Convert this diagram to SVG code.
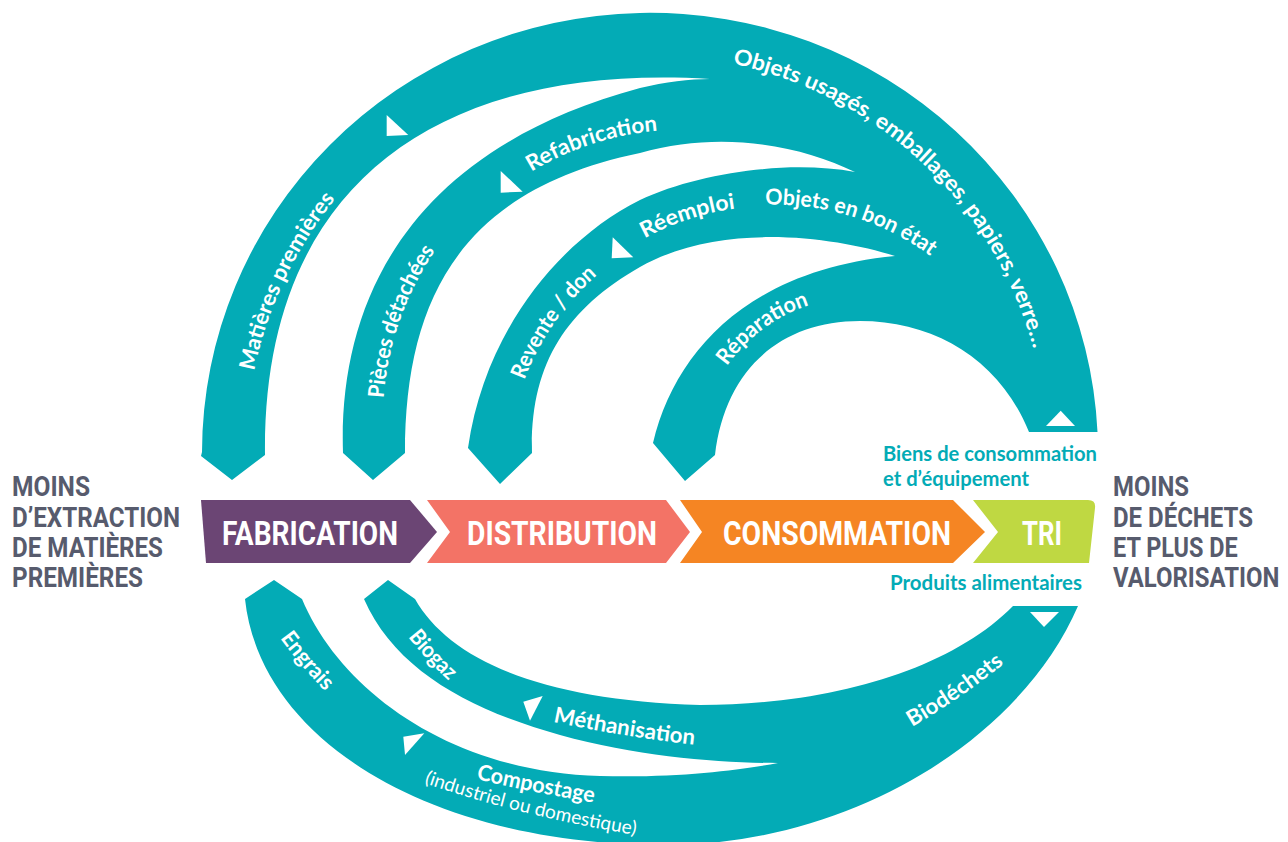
<svg xmlns="http://www.w3.org/2000/svg" width="1288" height="842" viewBox="0 0 1288 842">
<style>
.band{fill:#03abb6}
.tri{fill:#ffffff}
.lbl{font-family:Lato,"Open Sans","Liberation Sans",sans-serif;font-weight:700;font-size:22px;fill:#ffffff}
.lbl-light{font-family:Lato,"Open Sans","Liberation Sans",sans-serif;font-weight:400;font-size:19px;fill:#ffffff}
.chev{font-family:Roboto,"Liberation Sans",sans-serif;font-weight:700;font-size:33px;fill:#ffffff}
.side{font-family:Roboto,"Liberation Sans",sans-serif;font-weight:700;font-size:28px;fill:#575b6d}
.teal{font-family:Lato,"Liberation Sans",sans-serif;font-weight:700;font-size:21px;fill:#03abb6}
</style>
<defs>
<path id="p-mat" d="M 254.2,371 A 404 404 0 0 1 336.2,197.8"/>
<path id="p-obj" d="M 732.5,63.7 A 397 397 0 0 1 1034.3,352.6"/>
<path id="p-pie" d="M 383.7,398.2 A 298 298 0 0 1 436.9,248.1"/>
<path id="p-ref" d="M 531.3,171.8 A 289 289 0 0 1 660.3,130.7"/>
<path id="p-rev" d="M 524.3,379.9 A 265 265 0 0 1 599.2,273.1"/>
<path id="p-ree" d="M 644.5,238.3 A 268 268 0 0 1 737.9,208.2"/>
<path id="p-bon" d="M 765.4,204.6 A 269.5 269.5 0 0 1 932.7,257.6"/>
<path id="p-rep" d="M 726.8,366 A 163 163 0 0 1 811.3,304.5"/>
<path id="p-eng" d="M 280,638 Q 301,667 327,693"/>
<path id="p-bio" d="M 408,637 Q 428,662 451,683"/>
<path id="p-met" d="M 553,722 Q 625,737 697,745"/>
<path id="p-com" d="M 476,779 Q 535,793 596,803"/>
<path id="p-ind" d="M 424,783 Q 520,816 636,835"/>
<path id="p-bdc" d="M 912,727 Q 962,698 1006,662"/>
</defs>

<g id="connectors">
  <g id="loop-top">
    <path class="band" d="M 232,480 L 201,456 L 202,452 A 448 440 0 0 1 1097.5,432 L 1029,432 C 1000,360 935,321 860,321 C 780,321 725,370 715,455 L 685,481 L 653,443 C 675,350 750,270 895,256 C 830,236 720,222 640,267 C 565,310 530,365 532,453 L 500,484 L 468,448 C 485,330 560,240 640,200 C 700,172 790,160 855,172 C 800,145 720,130 640,153 C 460,190 405,300 405,453 L 373,480 L 343,453 C 338,300 410,150 640,88 C 665,82 690,79 710,79 C 420,62 262,200 265,455 Z"/>
    <polygon class="tri" points="386.7,115 386.7,136 408.3,135"/>
    <polygon class="tri" points="500.7,171 500.7,192.7 522.7,191.7"/>
    <polygon class="tri" points="612.7,237.3 611.7,258.3 633.3,257.3"/>
    <polygon class="tri" points="1046,426 1075,426 1060.7,410.7"/>
  </g>
  <g id="loop-bottom">
    <path class="band" d="M 274,580 L 302,599 C 340,690 450,772 600,776 C 680,778 740,770 778,763 C 720,763 640,757 560,735 C 470,710 395,670 364,599 L 388,580 L 415,599 C 450,660 540,700 700,705 C 830,705 950,670 1013,606 L 1078,606 C 1020,740 850,845 665,845 C 430,845 260,740 245,599 Z"/>
    <polygon class="tri" points="523.3,701.7 542.7,696 530,720.7"/>
    <polygon class="tri" points="403.3,736.7 424.3,733.3 405,755"/>
    <polygon class="tri" points="1030,612 1059,612 1044,627"/>
  </g>
</g>

<g id="flow-labels">
  <text class="lbl"><textPath href="#p-mat" textLength="192" lengthAdjust="spacingAndGlyphs">Matières premières</textPath></text>
  <text class="lbl"><textPath href="#p-obj" textLength="436" lengthAdjust="spacingAndGlyphs">Objets usagés, emballages, papiers, verre…</textPath></text>
  <text class="lbl"><textPath href="#p-pie" textLength="158" lengthAdjust="spacingAndGlyphs">Pièces détachées</textPath></text>
  <text class="lbl"><textPath href="#p-ref" textLength="134" lengthAdjust="spacingAndGlyphs">Refabrication</textPath></text>
  <text class="lbl"><textPath href="#p-rev" textLength="129" lengthAdjust="spacingAndGlyphs">Revente / don</textPath></text>
  <text class="lbl"><textPath href="#p-ree" textLength="96" lengthAdjust="spacingAndGlyphs">Réemploi</textPath></text>
  <text class="lbl"><textPath href="#p-bon" textLength="176" lengthAdjust="spacingAndGlyphs">Objets en bon état</textPath></text>
  <text class="lbl"><textPath href="#p-rep" textLength="104" lengthAdjust="spacingAndGlyphs">Réparation</textPath></text>
  <text class="lbl"><textPath href="#p-eng" textLength="70" lengthAdjust="spacingAndGlyphs">Engrais</textPath></text>
  <text class="lbl"><textPath href="#p-bio" textLength="60" lengthAdjust="spacingAndGlyphs">Biogaz</textPath></text>
  <text class="lbl"><textPath href="#p-met" textLength="143" lengthAdjust="spacingAndGlyphs">Méthanisation</textPath></text>
  <text class="lbl"><textPath href="#p-com" textLength="120" lengthAdjust="spacingAndGlyphs">Compostage</textPath></text>
  <text class="lbl-light"><textPath href="#p-ind" textLength="218" lengthAdjust="spacingAndGlyphs">(industriel ou domestique)</textPath></text>
  <text class="lbl"><textPath href="#p-bdc" textLength="112" lengthAdjust="spacingAndGlyphs">Biodéchets</textPath></text>
</g>

<g id="fabrication">
  <polygon points="201,500 410,500 437,532 410,563 206,563" fill="#6b4574"/>
  <text class="chev" x="222" y="545" textLength="176" lengthAdjust="spacingAndGlyphs">FABRICATION</text>
</g>
<g id="distribution">
  <polygon points="427,500 666,500 690,532 666,563 427,563 450,532" fill="#f37366"/>
  <text class="chev" x="467" y="545" textLength="190" lengthAdjust="spacingAndGlyphs">DISTRIBUTION</text>
</g>
<g id="consommation">
  <polygon points="680,500 953,500 985,532 953,563 680,563 702,532" fill="#f58523"/>
  <text class="chev" x="723" y="545" textLength="228" lengthAdjust="spacingAndGlyphs">CONSOMMATION</text>
</g>
<g id="tri">
  <path d="M 973,500 L 1088,500 Q 1096,500 1095,508 L 1089,563 L 973,563 L 998,532 Z" fill="#bfd842"/>
  <text class="chev" x="1022" y="545" textLength="40" lengthAdjust="spacingAndGlyphs">TRI</text>
</g>

<g id="tri-outputs">
  <text class="teal" x="883" y="461" textLength="214" lengthAdjust="spacingAndGlyphs">Biens de consommation</text>
  <text class="teal" x="883" y="486" textLength="146" lengthAdjust="spacingAndGlyphs">et d’équipement</text>
  <text class="teal" x="890" y="590" textLength="192" lengthAdjust="spacingAndGlyphs">Produits alimentaires</text>
</g>

<g id="left-note">
  <text class="side" x="12" y="496" textLength="78" lengthAdjust="spacingAndGlyphs">MOINS</text>
  <text class="side" x="12" y="527" textLength="168" lengthAdjust="spacingAndGlyphs">D’EXTRACTION</text>
  <text class="side" x="12" y="557" textLength="151" lengthAdjust="spacingAndGlyphs">DE MATIÈRES</text>
  <text class="side" x="12" y="587" textLength="131" lengthAdjust="spacingAndGlyphs">PREMIÈRES</text>
</g>
<g id="right-note">
  <text class="side" transform="translate(1113,496) scale(0.8,1)" textLength="95" lengthAdjust="spacingAndGlyphs">MOINS</text>
  <text class="side" transform="translate(1113,527) scale(0.8,1)" textLength="175" lengthAdjust="spacingAndGlyphs">DE DÉCHETS</text>
  <text class="side" transform="translate(1113,557) scale(0.8,1)" textLength="156" lengthAdjust="spacingAndGlyphs">ET PLUS DE</text>
  <text class="side" transform="translate(1113,587) scale(0.8,1)" textLength="208" lengthAdjust="spacingAndGlyphs">VALORISATION</text>
</g>
</svg>
